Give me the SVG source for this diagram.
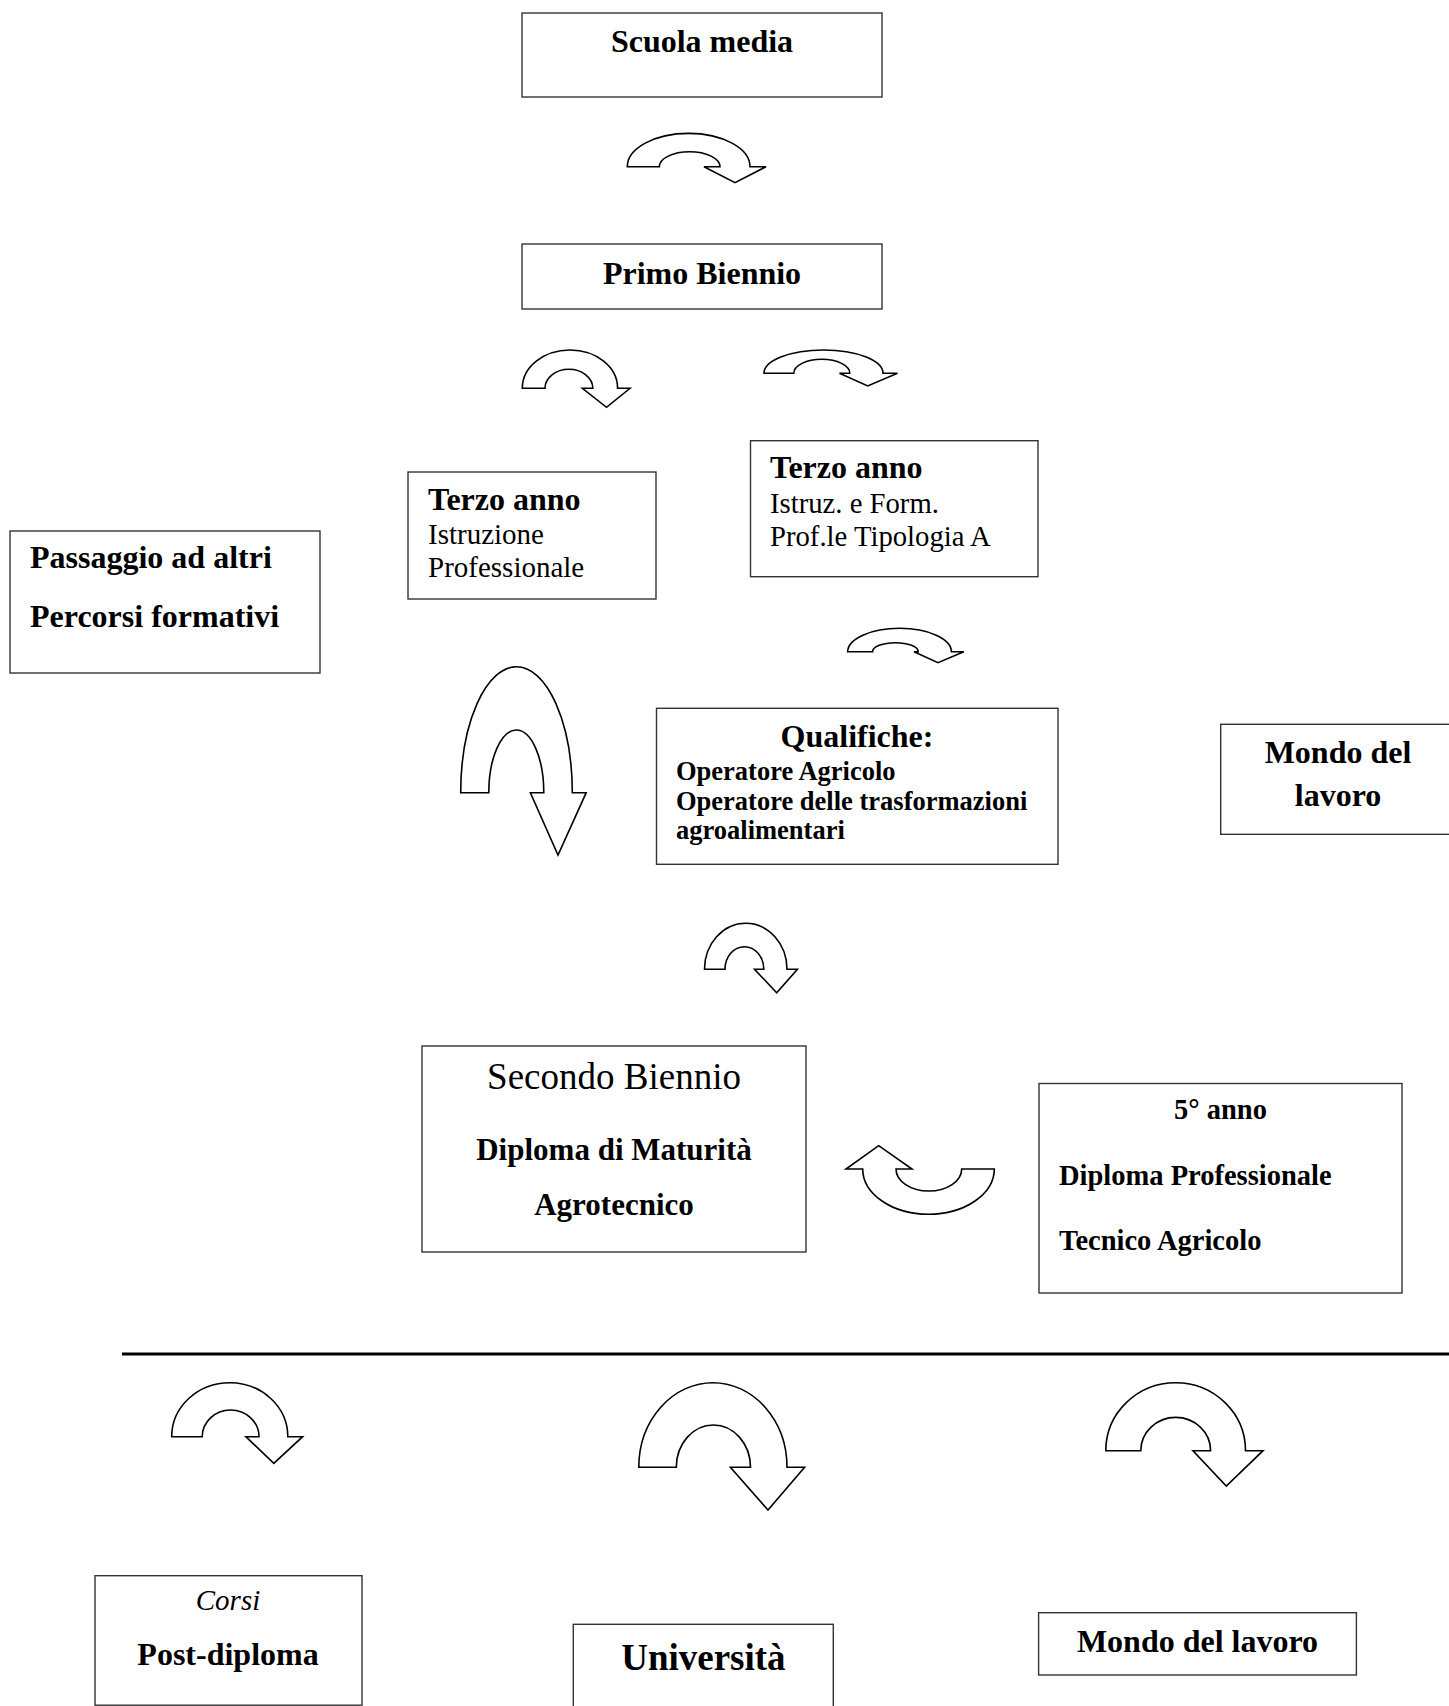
<svg xmlns="http://www.w3.org/2000/svg" width="1449" height="1706" viewBox="0 0 1449 1706">
<style>
.box{fill:#fff;stroke:#333;stroke-width:1.4}
.arr{fill:#fff;stroke:#000;stroke-width:1.6;stroke-linejoin:miter}
text{font-family:"Liberation Serif","Times New Roman",serif;fill:#000}
.b{font-weight:bold}
.c{text-anchor:middle}
</style>
<rect width="1449" height="1706" fill="#fff"/>
<g id="connectors">
<path id="a1" class="arr" d="M627.3,166.7 A61.35,33.3 0 0 1 750,166.7 L766,166.7 L735,182.7 L704,166.7 L720,166.7 A30.35,15 0 0 0 659.3,166.7 Z"/>
<path id="a2" class="arr" d="M522.3,388.3 A47.65,38.3 0 0 1 617.6,388.3 L630,388.3 L606.5,407.3 L582.4,388.3 L592.8,388.3 A23.9,19 0 0 0 545,388.3 Z"/>
<path id="a3" class="arr" d="M764,373.3 A59.5,23.3 0 0 1 883,373.3 L897.5,373.3 L867.7,386 L839.5,373.3 L849.8,373.3 A28,14 0 0 0 793.8,373.3 Z"/>
<path id="a4" class="arr" d="M847.7,651.7 A51.85,23.4 0 0 1 951.4,651.7 L963.8,651.7 L938,662.7 L914,651.7 L918.2,651.7 A22.8,9 0 0 0 872.6,651.7 Z"/>
<path id="a5" class="arr" d="M460.7,792.7 A55.8,126 0 0 1 572.3,792.7 L586.2,792.7 L558,855 L530.4,792.7 L543.8,792.7 A27.5,62.7 0 0 0 488.8,792.7 Z"/>
<path id="a6" class="arr" d="M704.5,969.3 A41.25,46 0 0 1 787,969.3 L797.4,969.3 L776.7,992.7 L754.5,969.3 L763.8,969.3 A19.4,22.6 0 0 0 725,969.3 Z"/>
<path id="a7" class="arr" d="M994.3,1169 A65.8,45.3 0 0 1 862.7,1169 L846,1169 L878.7,1145.7 L912,1169 L896,1169 A32.85,22 0 0 0 961.7,1169 Z"/>
<line id="divider" x1="122" y1="1354" x2="1449" y2="1354" stroke="#000" stroke-width="3"/>
<path id="a8" class="arr" d="M171.7,1436.7 A58.05,54 0 0 1 287.8,1436.7 L302.6,1436.7 L273.8,1463.3 L245.9,1436.7 L259,1436.7 A28.4,26.7 0 0 0 202.2,1436.7 Z"/>
<path id="a9" class="arr" d="M638.8,1467.3 A74.1,84.6 0 0 1 787,1467.3 L804.6,1467.3 L768,1510 L730.4,1467.3 L750.5,1467.3 A37.1,42.3 0 0 0 676.3,1467.3 Z"/>
<path id="a10" class="arr" d="M1105.8,1450.7 A69.85,68 0 0 1 1245.5,1450.7 L1263,1450.7 L1226.3,1486 L1193,1450.7 L1210.6,1450.7 A34.9,33.4 0 0 0 1140.8,1450.7 Z"/>
</g>
<g id="scuola">
<rect class="box" x="522" y="13" width="360" height="84"/>
<text class="b c" x="702" y="52" font-size="32">Scuola media</text>
</g>
<g id="primo">
<rect class="box" x="522" y="244" width="360" height="65"/>
<text class="b c" x="702" y="284" font-size="32">Primo Biennio</text>
</g>
<g id="terzo-ip">
<rect class="box" x="408" y="472" width="248" height="127"/>
<text class="b" x="428" y="510" font-size="32">Terzo anno</text>
<text x="428" y="543.5" font-size="29">Istruzione</text>
<text x="428" y="577" font-size="29">Professionale</text>
</g>
<g id="terzo-ifp">
<rect class="box" x="750.5" y="440.7" width="287.5" height="136"/>
<text class="b" x="770" y="478" font-size="32">Terzo anno</text>
<text x="770" y="513" font-size="28.7">Istruz. e Form.</text>
<text x="770" y="546" font-size="28.7">Prof.le Tipologia A</text>
</g>
<g id="passaggio">
<rect class="box" x="10" y="531" width="310" height="142"/>
<text class="b" x="30" y="568" font-size="32">Passaggio ad altri</text>
<text class="b" x="30" y="627" font-size="32">Percorsi formativi</text>
</g>
<g id="qualifiche">
<rect class="box" x="656.5" y="708.3" width="401.5" height="156"/>
<text class="b c" x="857" y="747" font-size="32">Qualifiche:</text>
<text class="b" x="676" y="780" font-size="26.5">Operatore Agricolo</text>
<text class="b" x="676" y="810" font-size="26.5">Operatore delle trasformazioni</text>
<text class="b" x="676" y="839" font-size="26.5">agroalimentari</text>
</g>
<g id="mondo1">
<rect class="box" x="1220.7" y="724.3" width="250" height="110"/>
<text class="b c" x="1338" y="763" font-size="32">Mondo del</text>
<text class="b c" x="1338" y="806" font-size="32">lavoro</text>
</g>
<g id="secondo">
<rect class="box" x="422" y="1046" width="384" height="206"/>
<text class="c" x="614" y="1089" font-size="37">Secondo Biennio</text>
<text class="b c" x="614" y="1160" font-size="31">Diploma di Maturità</text>
<text class="b c" x="614" y="1215" font-size="31">Agrotecnico</text>
</g>
<g id="quinto">
<rect class="box" x="1039" y="1083.5" width="363" height="209.5"/>
<text class="b c" x="1220.5" y="1119" font-size="28.5">5° anno</text>
<text class="b" x="1059" y="1185" font-size="28.5">Diploma Professionale</text>
<text class="b" x="1059" y="1250" font-size="28.5">Tecnico Agricolo</text>
</g>
<g id="corsi">
<rect class="box" x="95" y="1575.7" width="267" height="129.5"/>
<text class="c" x="228" y="1610" font-size="29" font-style="italic">Corsi</text>
<text class="b c" x="228" y="1665" font-size="32">Post-diploma</text>
</g>
<g id="universita">
<rect class="box" x="573.3" y="1624.3" width="260" height="100"/>
<text class="b c" x="703.4" y="1670" font-size="37">Università</text>
</g>
<g id="mondo2">
<rect class="box" x="1038.6" y="1612.7" width="317.8" height="62.3"/>
<text class="b c" x="1197.5" y="1652" font-size="32">Mondo del lavoro</text>
</g>
</svg>
